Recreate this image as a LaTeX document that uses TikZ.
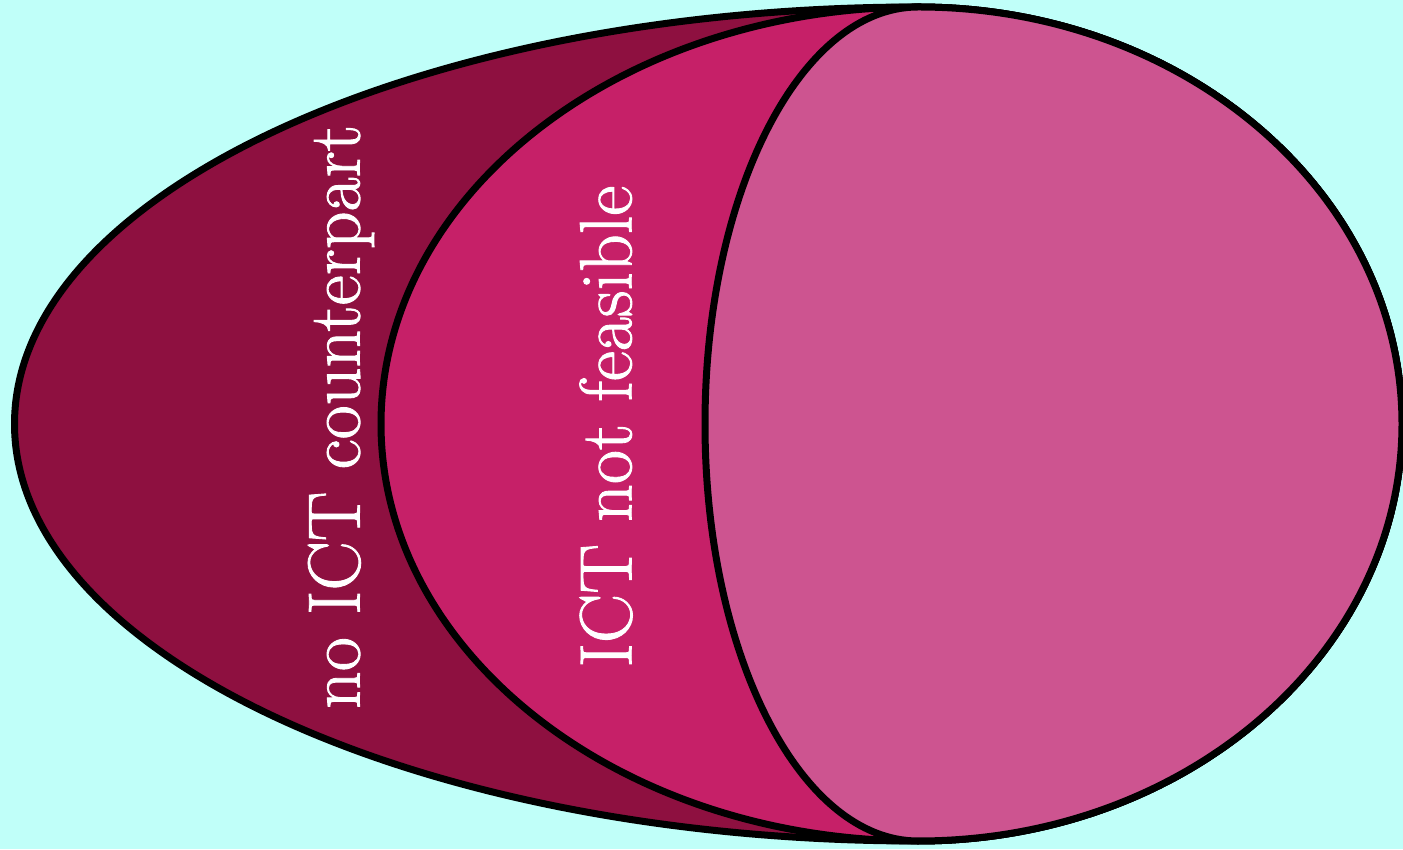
\documentclass[tikz,border=0pt]{standalone}
\usepackage{fontspec}
\newfontfamily\labelfont{lmroman17-regular}[Extension=.otf,RawFeature={embolden=1.2}]
\definecolor{bgcyan}{RGB}{192,255,249}
\definecolor{darkmaroon}{RGB}{142,16,64}
\definecolor{midmagenta}{RGB}{198,32,104}
\definecolor{lightpink}{RGB}{205,84,144}
\begin{document}
\begin{tikzpicture}[x=1pt,y=1pt,
  region/.style={draw=black,line width=7pt,line join=round},
  label/.style={rotate=90,text=white,inner sep=0pt,font=\labelfont\fontsize{74}{80}\selectfont}]
\fill[bgcyan] (0,0) rectangle (1403,849);
\useasboundingbox (0,0) rectangle (1403,849);
\coordinate (top) at (918,842);
\draw[region,fill=darkmaroon] (top) arc[start angle=90,end angle=270,x radius=903.5,y radius=417]
  arc[start angle=270,end angle=450,x radius=484,y radius=417] -- cycle;
\draw[region,fill=midmagenta] (top) arc[start angle=90,end angle=270,x radius=537,y radius=417]
  arc[start angle=270,end angle=450,x radius=484,y radius=417] -- cycle;
\draw[region,fill=lightpink] (top) arc[start angle=90,end angle=270,x radius=213,y radius=417]
  arc[start angle=270,end angle=450,x radius=484,y radius=417] -- cycle;
\node[label] (t1) at (341,432) {no ICT counterpart};
\node[label] (t2) at (606,422.5) {ICT not feasible};
\end{tikzpicture}
\end{document}
